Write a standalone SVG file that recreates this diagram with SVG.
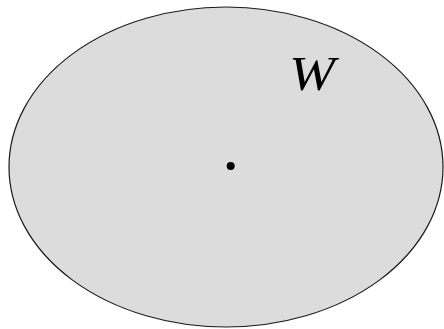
<svg xmlns="http://www.w3.org/2000/svg" width="444" height="329" viewBox="0 0 444 329">
<style>
.region{fill:#dcdcdc;stroke:#1a1a1a;stroke-width:1.2}
.lbl{font-family:"Liberation Serif",serif;font-style:italic;font-size:48px;fill:#000}
</style>
<rect width="444" height="329" fill="#fff"/>
<g id="region-W">
<ellipse class="region" cx="226" cy="167" rx="217" ry="160"/>
<text class="lbl" transform="translate(289,89.5) scale(1.15,1)" x="0" y="0">W</text>
</g>
<g id="point">
<circle cx="230.7" cy="166" r="4" fill="#000"/>
</g>
<g id="connectors"/>
</svg>
